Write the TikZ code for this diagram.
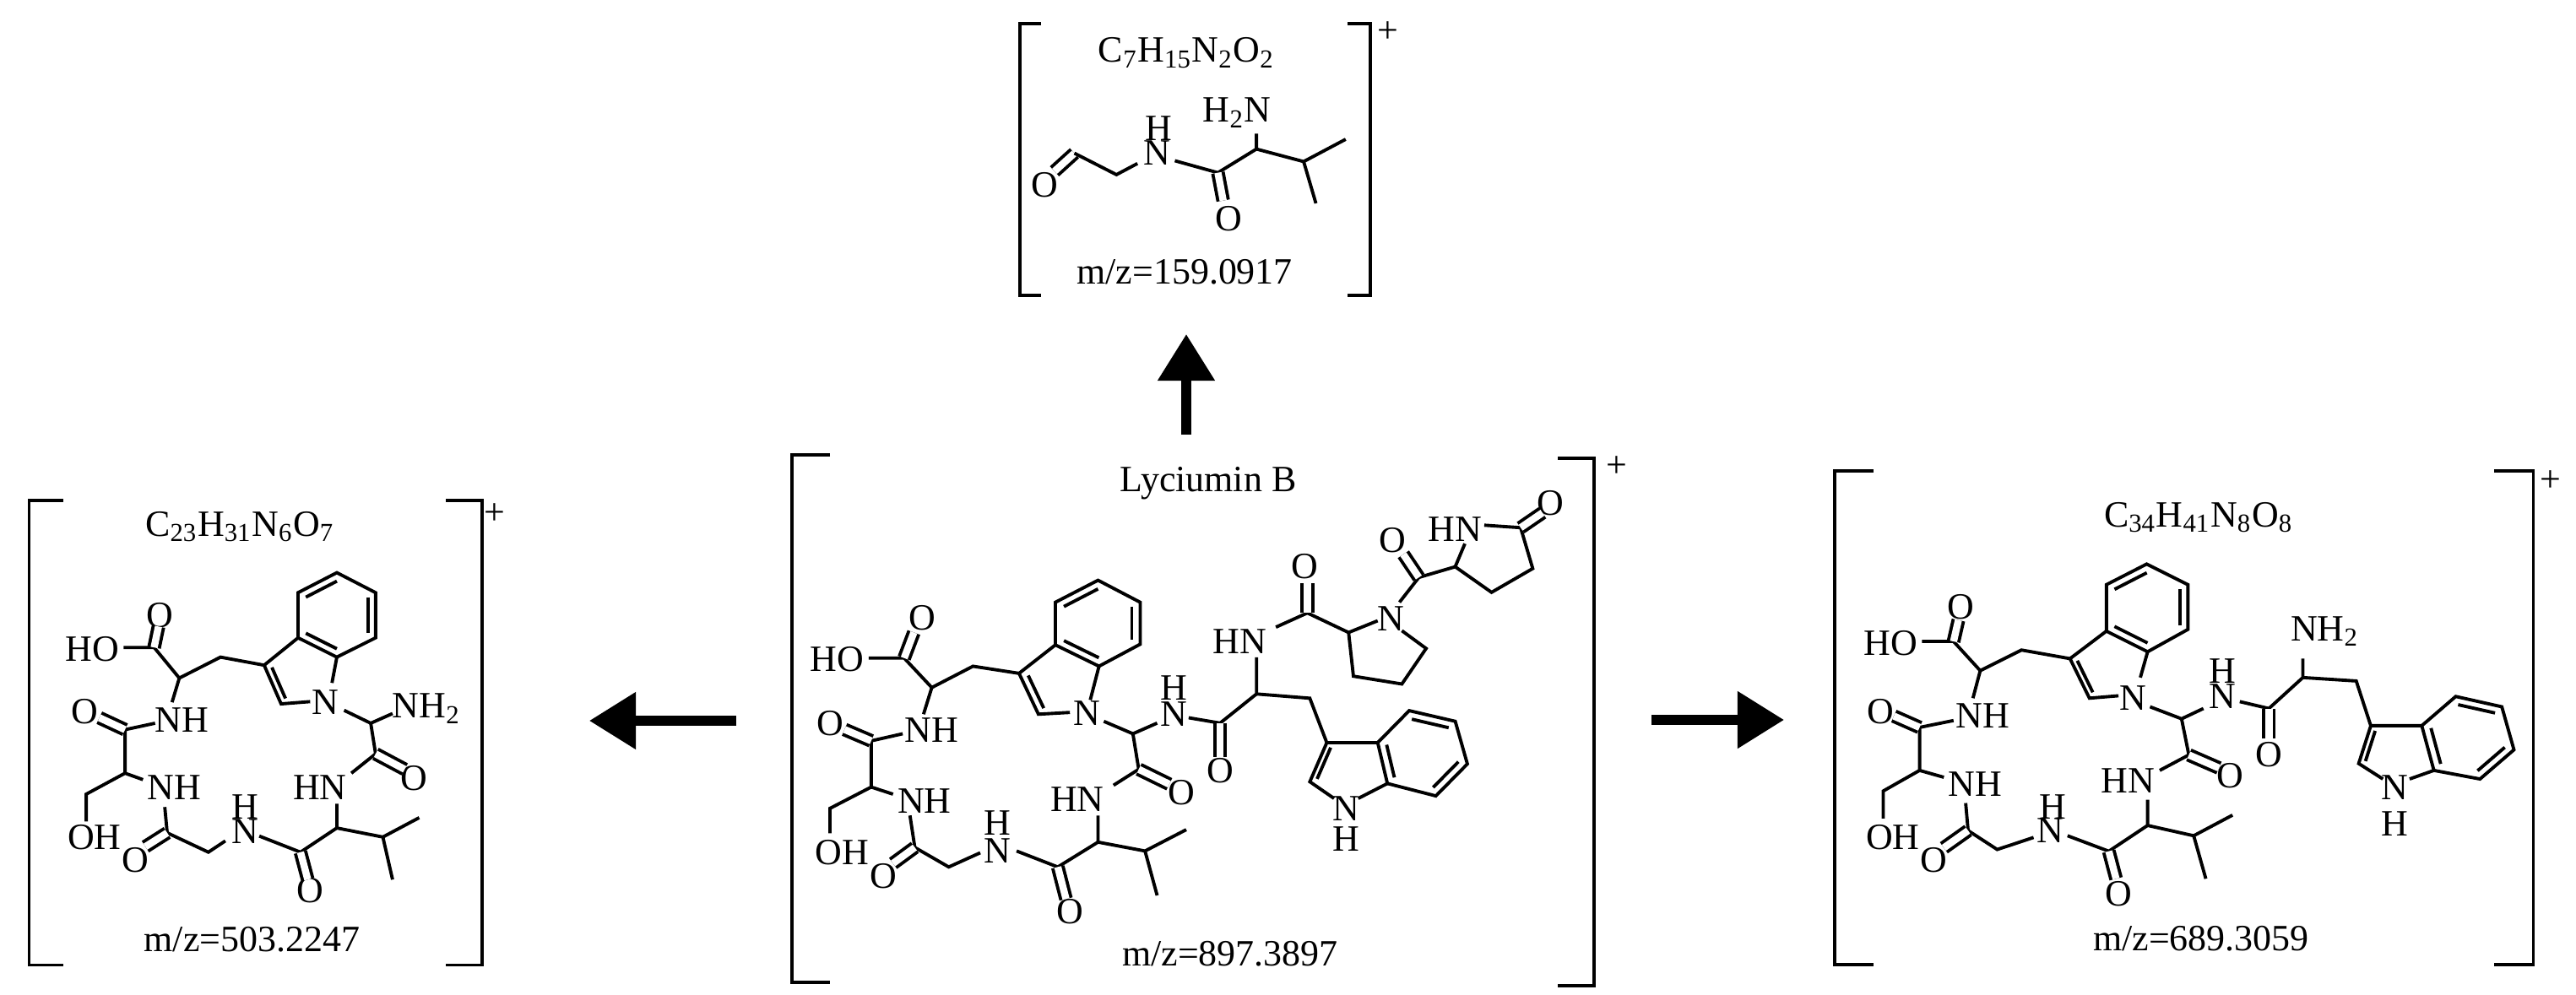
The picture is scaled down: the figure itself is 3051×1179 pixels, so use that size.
\documentclass[tikz,border=0pt]{standalone}
\usepackage{fontspec}
\setmainfont{Liberation Serif}
\usetikzlibrary{calc,arrows.meta}
\tikzset{
  bd/.style={line width=1.1pt, line join=miter},
  dbl/.style={bd, double, double distance=2.4pt},
  lbl/.style={inner sep=0pt, font=\fontsize{12.5}{14}\selectfont},
  brk/.style={line width=1.1pt},
  fatarrow/.style={line width=3.2pt, -{Triangle[length=0.55cm,width=0.65cm]}}
}
\newcommand{\inb}[3]{\draw[bd] ($(#1)!0.2!(#3)$) -- ($(#2)!0.2!(#3)$);}
\begin{document}
\begin{tikzpicture}[x=0.01cm,y=-0.01cm]
\useasboundingbox (0,0) rectangle (3051,1179);

% ================= CENTER (Lyciumin B) =================
\begin{scope}[shift={(940,520)},xscale=0.574,yscale=0.421]
\node[lbl] (cHO) at (90,620) {HO};
\node[lbl] (cO1) at (265,505) {O};
\node[lbl] (cNH1) at (285,820) {NH};
\node[lbl] (cN1) at (605,772) {N};
\node[lbl] (cH2) at (785,700) {H};
\node[lbl] (cN2) at (785,775) {N};
\node[lbl] (cO2) at (880,935) {O};
\node[lbl] (cHN3) at (920,570) {HN};
\node[lbl] (cO3) at (1055,360) {O};
\node[lbl] (cNp) at (1232,505) {N};
\node[lbl] (cO4) at (1235,285) {O};
\node[lbl] (cHN4) at (1365,255) {HN};
\node[lbl] (cO5) at (1562,180) {O};
\node[lbl] (cNi) at (1140,1040) {N};
\node[lbl] (cHi) at (1140,1125) {H};
\node[lbl] (cO6) at (800,995) {O};
\node[lbl] (cHN5) at (585,1015) {HN};
\node[lbl] (cO7) at (570,1330) {O};
\node[lbl] (cH8) at (420,1080) {H};
\node[lbl] (cN8) at (420,1160) {N};
\node[lbl] (cO8) at (185,1230) {O};
\node[lbl] (cNH9) at (270,1020) {NH};
\node[lbl] (cOH) at (100,1165) {OH};
\node[lbl] (cO9) at (75,800) {O};
\draw[bd] (155,617)--(228,617)--(285,700)--(370,640)--(465,660);
\draw[dbl] (228,617)--(248,545);
\draw[bd] (285,700)--(268,775);
\coordinate (a3) at (465,660); \coordinate (a2) at (505,775);
\coordinate (a3a) at (540,580); \coordinate (a4) at (540,460);
\coordinate (a5) at (628,398); \coordinate (a6) at (715,460);
\coordinate (a7) at (715,578); \coordinate (a7a) at (630,640);
\coordinate (abc) at (628,520); \coordinate (apc) at (560,690);
\draw[bd] (a3)--(a2)--(570,770);
\draw[bd] (a3)--(a3a)--(a4)--(a5)--(a6)--(a7)--(a7a)--(a3a);
\draw[bd] (a7a)--(612,735);
\inb{a4}{a5}{abc} \inb{a6}{a7}{abc} \inb{a3a}{a7a}{abc} \inb{a3}{a2}{apc}
\draw[bd] (640,795)--(700,830)--(750,800);
\draw[bd] (815,785)--(880,800)--(955,718)--(955,615);
\draw[dbl] (880,800)--(880,895);
\draw[bd] (995,530)--(1060,490)--(1145,545)--(1205,512);
\draw[dbl] (1060,490)--(1060,405);
\draw[bd] (1255,540)--(1305,590)--(1255,690)--(1155,668)--(1145,545);
\draw[bd] (1250,460)--(1290,390)--(1365,360)--(1440,432)--(1525,365)--(1500,250)--(1425,243);
\draw[dbl] (1290,390)--(1258,325);
\draw[dbl] (1500,250)--(1545,208);
\draw[bd] (1385,295)--(1365,360);
\draw[bd] (955,718)--(1065,730)--(1100,855);
\coordinate (b3) at (1100,855); \coordinate (b2) at (1065,965);
\coordinate (b3a) at (1205,855); \coordinate (b4) at (1270,765);
\coordinate (b5) at (1365,795); \coordinate (b6) at (1390,915);
\coordinate (b7) at (1325,1005); \coordinate (b7a) at (1225,970);
\coordinate (bbc) at (1297,885); \coordinate (bpc) at (1140,925);
\draw[bd] (b3)--(b2)--(1115,1012);
\draw[bd] (1165,1012)--(b7a);
\draw[bd] (b3)--(b3a)--(b4)--(b5)--(b6)--(b7)--(b7a)--(b3a);
\inb{b4}{b5}{bbc} \inb{b6}{b7}{bbc} \inb{b3a}{b7a}{bbc} \inb{b3}{b2}{bpc}
\draw[bd] (700,830)--(712,930)--(660,975);
\draw[dbl] (712,930)--(775,972);
\draw[bd] (628,1060)--(628,1135)--(725,1160)--(810,1100);
\draw[bd] (725,1160)--(750,1285);
\draw[bd] (628,1135)--(545,1205)--(460,1160);
\draw[dbl] (545,1205)--(562,1295);
\draw[bd] (385,1165)--(320,1205)--(250,1150)--(240,1060);
\draw[dbl] (250,1150)--(205,1195);
\draw[bd] (205,1000)--(160,980)--(75,1040)--(75,1110);
\draw[bd] (160,980)--(160,850)--(225,830);
\draw[dbl] (160,850)--(105,818);
\end{scope}
\draw[brk] (983,539)--(938,539)--(938,1164)--(983,1164);
\draw[brk] (1845,543)--(1888,543)--(1888,1168)--(1845,1168);
\node[lbl] (cplus) at (1915,553) {+};
\node[lbl] (cname) at (1431,573) {Lyciumin B};
\node[lbl] (cmz) at (1457,1130) {m/z=897.3897};

% ================= LEFT =================
\begin{scope}[shift={(0,580)},xscale=0.574,yscale=0.382]
\node[lbl] (lHO) at (190,495) {HO};
\node[lbl] (lO1) at (330,390) {O};
\node[lbl] (lNH1) at (375,715) {NH};
\node[lbl] (lN1) at (672,660) {N};
\node[lbl] (lNH2) at (880,680) {NH\textsubscript{2}};
\node[lbl] (lO2) at (855,895) {O};
\node[lbl] (lHN3) at (660,925) {HN};
\node[lbl] (lO3) at (640,1245) {O};
\node[lbl] (lH4) at (505,985) {H};
\node[lbl] (lN4) at (505,1060) {N};
\node[lbl] (lO4) at (280,1150) {O};
\node[lbl] (lNH5) at (360,925) {NH};
\node[lbl] (lOH) at (195,1080) {OH};
\node[lbl] (lO5) at (175,690) {O};
\draw[bd] (255,490)--(318,490)--(370,585)--(455,520)--(545,545);
\draw[dbl] (318,490)--(327,425);
\draw[bd] (370,585)--(355,660);
\coordinate (d3) at (545,545); \coordinate (d2) at (580,665);
\coordinate (d3a) at (615,460); \coordinate (d4) at (615,320);
\coordinate (d5) at (695,258); \coordinate (d6) at (775,320);
\coordinate (d7) at (775,460); \coordinate (d7a) at (695,520);
\coordinate (dbc) at (695,390); \coordinate (dpc) at (625,580);
\draw[bd] (d3)--(d2)--(640,658);
\draw[bd] (d3)--(d3a)--(d4)--(d5)--(d6)--(d7)--(d7a)--(d3a);
\draw[bd] (685,600)--(d7a);
\inb{d4}{d5}{dbc} \inb{d6}{d7}{dbc} \inb{d3a}{d7a}{dbc} \inb{d3}{d2}{dpc}
\draw[bd] (710,685)--(765,725)--(810,695);
\draw[bd] (765,725)--(775,820)--(725,880);
\draw[dbl] (775,820)--(835,868);
\draw[bd] (695,975)--(695,1050)--(790,1078)--(865,1018);
\draw[bd] (790,1078)--(810,1210);
\draw[bd] (695,1050)--(620,1125)--(535,1075);
\draw[dbl] (620,1125)--(635,1210);
\draw[bd] (465,1090)--(430,1125)--(345,1065)--(340,985);
\draw[dbl] (345,1065)--(300,1108);
\draw[bd] (295,900)--(258,880)--(178,945)--(178,1030);
\draw[bd] (258,880)--(258,745)--(320,725);
\draw[dbl] (258,745)--(205,708);
\draw[brk] (130,35)--(60,35)--(60,1475)--(130,1475);
\draw[brk] (920,35)--(995,35)--(995,1475)--(920,1475);
\node[lbl] (lplus) at (1020,75) {+};
\node[lbl] (lform) at (495,115) {C\textsubscript{23}H\textsubscript{31}N\textsubscript{6}O\textsubscript{7}};
\node[lbl] (lmz) at (520,1395) {m/z=503.2247};
\end{scope}

% ================= RIGHT =================
\begin{scope}[shift={(2150,540)},xscale=0.5746,yscale=0.4075]
\node[lbl] (rHO) at (155,545) {HO};
\node[lbl] (rO1) at (300,440) {O};
\node[lbl] (rNH1) at (345,755) {NH};
\node[lbl] (rN1) at (655,705) {N};
\node[lbl] (rH2) at (840,625) {H};
\node[lbl] (rN2) at (840,700) {N};
\node[lbl] (rO2) at (935,870) {O};
\node[lbl] (rNH2) at (1050,510) {NH\textsubscript{2}};
\node[lbl] (rNi) at (1195,965) {N};
\node[lbl] (rHi) at (1195,1070) {H};
\node[lbl] (rO3) at (855,930) {O};
\node[lbl] (rHN3) at (645,945) {HN};
\node[lbl] (rO4) at (625,1275) {O};
\node[lbl] (rH5) at (490,1020) {H};
\node[lbl] (rN5) at (485,1090) {N};
\node[lbl] (rO5) at (245,1175) {O};
\node[lbl] (rNH6) at (330,955) {NH};
\node[lbl] (rOH) at (160,1110) {OH};
\node[lbl] (rO6) at (135,745) {O};
\draw[bd] (220,540)--(285,540)--(340,625)--(425,565)--(525,590);
\draw[dbl] (285,540)--(295,478);
\draw[bd] (340,625)--(325,705);
\coordinate (e3) at (525,590); \coordinate (e2) at (565,705);
\coordinate (e3a) at (600,510); \coordinate (e4) at (600,375);
\coordinate (e5) at (683,315); \coordinate (e6) at (768,375);
\coordinate (e7) at (768,505); \coordinate (e7a) at (685,570);
\coordinate (ebc) at (684,442); \coordinate (epc) at (600,620);
\draw[bd] (e3)--(e2)--(625,698);
\draw[bd] (e3)--(e3a)--(e4)--(e5)--(e6)--(e7)--(e7a)--(e3a);
\draw[bd] (670,645)--(e7a);
\inb{e4}{e5}{ebc} \inb{e6}{e7}{ebc} \inb{e3a}{e7a}{ebc} \inb{e3}{e2}{epc}
\draw[bd] (690,730)--(755,765)--(800,735);
\draw[bd] (875,715)--(935,735)--(1005,645)--(1005,590);
\draw[dbl] (935,735)--(935,822);
\draw[bd] (1005,645)--(1115,655)--(1145,785);
\coordinate (f3) at (1145,785); \coordinate (f2) at (1120,895);
\coordinate (f3a) at (1250,785); \coordinate (f4) at (1320,700);
\coordinate (f5) at (1415,730); \coordinate (f6) at (1440,855);
\coordinate (f7) at (1370,940); \coordinate (f7a) at (1275,915);
\coordinate (fbc) at (1345,820); \coordinate (fpc) at (1190,860);
\draw[bd] (f3)--(f2)--(1170,940);
\draw[bd] (1225,940)--(f7a);
\draw[bd] (f3)--(f3a)--(f4)--(f5)--(f6)--(f7)--(f7a)--(f3a);
\inb{f4}{f5}{fbc} \inb{f6}{f7}{fbc} \inb{f3a}{f7a}{fbc} \inb{f3}{f2}{fpc}
\draw[bd] (755,765)--(770,870)--(710,915);
\draw[dbl] (770,870)--(832,908);
\draw[bd] (685,1000)--(685,1075)--(780,1105)--(860,1045);
\draw[bd] (780,1105)--(805,1230);
\draw[bd] (685,1075)--(605,1150)--(520,1105);
\draw[dbl] (605,1150)--(620,1230);
\draw[bd] (450,1110)--(375,1145)--(315,1090)--(310,1010);
\draw[dbl] (315,1090)--(265,1140);
\draw[bd] (265,935)--(215,915)--(140,975)--(140,1055);
\draw[bd] (215,915)--(215,790)--(285,770);
\draw[dbl] (215,790)--(162,757);
\draw[brk] (120,45)--(40,45)--(40,1480)--(120,1480);
\draw[brk] (1400,45)--(1480,45)--(1480,1480)--(1400,1480);
\node[lbl] (rplus) at (1515,75) {+};
\node[lbl] (rform) at (790,180) {C\textsubscript{34}H\textsubscript{41}N\textsubscript{8}O\textsubscript{8}};
\node[lbl] (rmz) at (795,1405) {m/z=689.3059};
\end{scope}

% ================= TOP =================
\begin{scope}[shift={(1200,5)},xscale=0.4145,yscale=0.33]
\node[lbl] (tO1) at (90,650) {O};
\node[lbl] (tH) at (415,445) {H};
\node[lbl] (tN) at (410,535) {N};
\node[lbl] (tNH2) at (640,390) {H\textsubscript{2}N};
\node[lbl] (tO2) at (615,770) {O};
\draw[dbl] (175,535)--(118,600);
\draw[bd] (175,535)--(295,612)--(355,572);
\draw[bd] (462,562)--(585,605)--(695,520)--(695,465);
\draw[dbl] (585,605)--(600,705);
\draw[bd] (695,520)--(830,565)--(950,485);
\draw[bd] (830,565)--(865,715);
\draw[brk] (80,70)--(20,70)--(20,1045)--(80,1045);
\draw[brk] (955,70)--(1020,70)--(1020,1045)--(955,1045);
\node[lbl] (tplus) at (1070,100) {+};
\node[lbl] (tform) at (495,175) {C\textsubscript{7}H\textsubscript{15}N\textsubscript{2}O\textsubscript{2}};
\node[lbl] (tmz) at (490,960) {m/z=159.0917};
\end{scope}

% ================= ARROWS =================
\coordinate (upS) at (1405,515); \coordinate (upE) at (1405,396);
\coordinate (lS) at (872,854); \coordinate (lE) at (698,854);
\coordinate (rS) at (1956,853); \coordinate (rE) at (2113,853);
\draw[fatarrow] (upS)--(upE);
\draw[fatarrow] (lS)--(lE);
\draw[fatarrow] (rS)--(rE);
\end{tikzpicture}
\end{document}
